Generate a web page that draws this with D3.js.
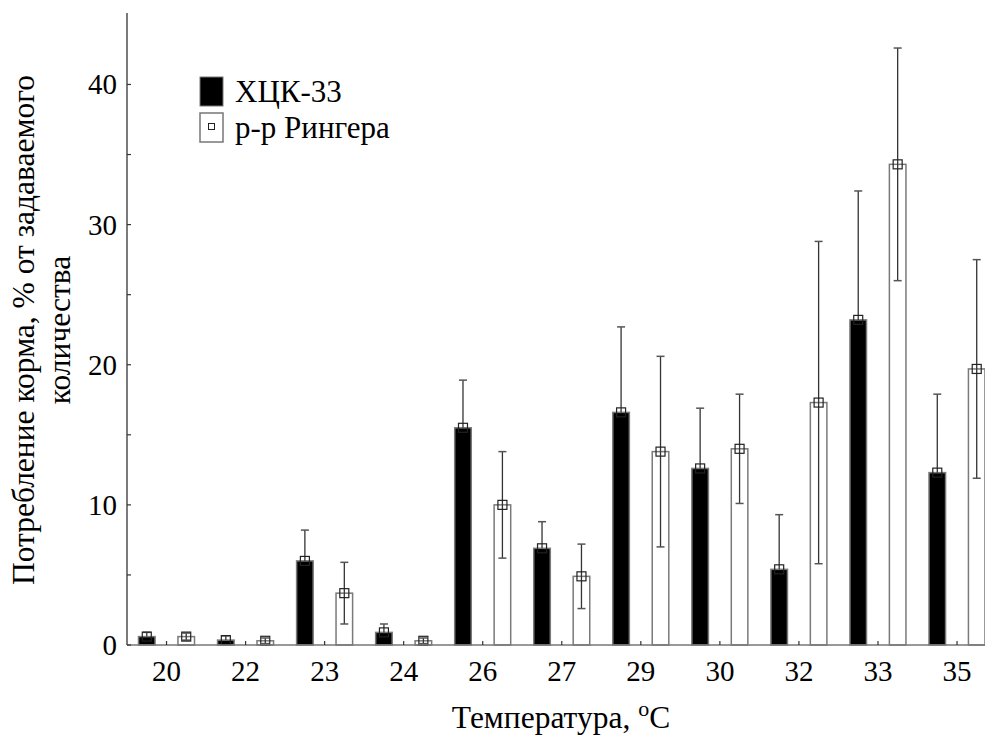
<!DOCTYPE html>
<html>
<head>
<meta charset="utf-8">
<script src="https://cdn.jsdelivr.net/npm/d3@7"></script>
<style>
  body { margin: 0; background: #fff; }
</style>
</head>
<body>
<svg id="chart" width="985" height="735"></svg>
<script>
// данные
var temps = ['20', '22', '23', '24', '26', '27', '29', '30', '32', '33', '35'];
var seriesNames = ['ХЦК-33', 'р-р Рингера'];
var hckMean = [0.6, 0.35, 6.0, 0.9, 15.5, 6.9, 16.6, 12.6, 5.4, 23.2, 12.3];
var hckErr  = [0.3, 0.3, 2.2, 0.6, 3.4, 1.9, 6.1, 4.3, 3.9, 9.2, 5.6];
var ringMean = [0.6, 0.3, 3.7, 0.3, 10.0, 4.9, 13.8, 14.0, 17.3, 34.3, 19.7];
var ringErr  = [0.25, 0.2, 2.2, 0.2, 3.8, 2.3, 6.8, 3.9, 11.5, 8.3, 7.8];
var yTicks = [0, 10, 20, 30, 40];
var yMinor = [5, 15, 25, 35];

(function(){
  var FONT = 'Liberation Serif';
  var svg = d3.select('#chart');
  var mLeft = 127, mBottom = 645, mTop = 13;
  var step = 79.05;

  var x0 = d3.scaleBand().domain(temps).range([mLeft, mLeft + step * temps.length]);
  var x1 = d3.scaleBand().domain(['hck', 'ring']).range([11.5, 67.5]).paddingInner(0.58);
  var y = d3.scaleLinear().domain([0, 45.1]).range([mBottom, mTop]);

  var items = [];
  temps.forEach(function(t, i) {
    items.push({t: t, key: 'hck', mean: hckMean[i], err: hckErr[i]});
    items.push({t: t, key: 'ring', mean: ringMean[i], err: ringErr[i]});
  });

  // bars
  svg.append('g').selectAll('rect')
    .data(items)
    .enter().append('rect')
      .attr('x', function(d){ return x0(d.t) + x1(d.key); })
      .attr('y', function(d){ return y(d.mean); })
      .attr('width', x1.bandwidth())
      .attr('height', function(d){ return mBottom - y(d.mean); })
      .attr('fill', function(d){ return d.key == 'hck' ? '#000' : '#fff'; })
      .attr('stroke', '#7a7a7a')
      .attr('stroke-width', 1.5);

  // error bars (у чёрных столбиков нижний ус не виден)
  var eb = svg.append('g').selectAll('g')
    .data(items)
    .enter().append('g')
      .attr('transform', function(d){ return 'translate(' + (x0(d.t) + x1(d.key) + x1.bandwidth() / 2) + ',0)'; });
  eb.append('line')
      .attr('x1', 0).attr('x2', 0)
      .attr('y1', function(d){ return y(d.mean + d.err); })
      .attr('y2', function(d){ return d.key == 'hck' ? y(d.mean) : y(Math.max(0, d.mean - d.err)); })
      .attr('stroke', '#333').attr('stroke-width', 1.3);
  eb.append('line')
      .attr('x1', -4).attr('x2', 4)
      .attr('y1', function(d){ return y(d.mean + d.err); })
      .attr('y2', function(d){ return y(d.mean + d.err); })
      .attr('stroke', '#555').attr('stroke-width', 1.5);
  eb.filter(function(d){ return d.key == 'ring'; }).append('line')
      .attr('x1', -4).attr('x2', 4)
      .attr('y1', function(d){ return y(Math.max(0, d.mean - d.err)); })
      .attr('y2', function(d){ return y(Math.max(0, d.mean - d.err)); })
      .attr('stroke', '#555').attr('stroke-width', 1.5);
  eb.append('rect')
      .attr('x', -4.5).attr('width', 9)
      .attr('y', function(d){ return y(d.mean) - 4.5; })
      .attr('height', 9)
      .attr('fill', 'none')
      .attr('stroke', '#222').attr('stroke-width', 1.2);

  // axes
  var xAxis = svg.append('g').attr('transform', 'translate(0,' + mBottom + ')');
  xAxis.append('line').attr('x1', mLeft).attr('x2', 985).attr('y1', 0).attr('y2', 0)
    .attr('stroke', '#777').attr('stroke-width', 1.5);
  xAxis.selectAll('.xt').data(temps).enter().append('line')
    .attr('x1', function(d){ return x0(d) + x0.bandwidth() / 2; })
    .attr('x2', function(d){ return x0(d) + x0.bandwidth() / 2; })
    .attr('y1', 0).attr('y2', -4)
    .attr('stroke', '#333').attr('stroke-width', 1.2);
  xAxis.selectAll('text').data(temps).enter().append('text')
    .attr('x', function(d){ return x0(d) + x0.bandwidth() / 2; })
    .attr('y', 36)
    .attr('text-anchor', 'middle')
    .attr('font-family', FONT)
    .attr('font-size', 29)
    .text(function(d){ return d; });

  var yAxis = svg.append('g').attr('transform', 'translate(' + mLeft + ',0)');
  yAxis.append('line').attr('x1', 0).attr('x2', 0).attr('y1', mTop).attr('y2', mBottom)
    .attr('stroke', '#333').attr('stroke-width', 1.3);
  yAxis.selectAll('.yt').data(yTicks.concat(yMinor)).enter().append('line')
    .attr('x1', 0).attr('x2', 4)
    .attr('y1', function(d){ return y(d); }).attr('y2', function(d){ return y(d); })
    .attr('stroke', '#333').attr('stroke-width', 1.2);
  yAxis.selectAll('text').data(yTicks).enter().append('text')
    .attr('x', -10)
    .attr('y', function(d){ return y(d) + 10; })
    .attr('text-anchor', 'end')
    .attr('font-family', FONT)
    .attr('font-size', 29)
    .text(function(d){ return d; });

  // axis titles
  var xt = svg.append('text')
    .attr('x', 561).attr('y', 728)
    .attr('text-anchor', 'middle')
    .attr('font-family', FONT)
    .attr('font-size', 31.5);
  xt.append('tspan').text('Температура, ');
  xt.append('tspan').attr('dy', -12).attr('font-size', 22).text('o');
  xt.append('tspan').attr('dy', 12).text('C');

  var yt = svg.append('g').attr('transform', 'translate(0,330) rotate(-90)');
  yt.append('text').attr('x', 0).attr('y', 34).attr('text-anchor', 'middle')
    .attr('font-family', FONT).attr('font-size', 31.5)
    .text('Потребление корма, % от задаваемого');
  yt.append('text').attr('x', 0).attr('y', 70).attr('text-anchor', 'middle')
    .attr('font-family', FONT).attr('font-size', 31.5)
    .text('количества');

  // legend
  var legend = svg.append('g');
  legend.append('rect').attr('x', 200).attr('y', 77).attr('width', 23).attr('height', 29)
    .attr('fill', '#000').attr('stroke', '#777');
  legend.append('rect').attr('x', 200).attr('y', 113).attr('width', 23).attr('height', 29)
    .attr('fill', '#fff').attr('stroke', '#777').attr('stroke-width', 1.5);
  legend.append('rect').attr('x', 208.5).attr('y', 123.5).attr('width', 6).attr('height', 6)
    .attr('fill', 'none').attr('stroke', '#222');
  legend.selectAll('text').data(seriesNames).enter().append('text')
    .attr('x', 235)
    .attr('y', function(d, i){ return 102 + i * 36; })
    .attr('font-family', FONT)
    .attr('font-size', 31)
    .text(function(d){ return d; });
})();
</script>
</body>
</html>
